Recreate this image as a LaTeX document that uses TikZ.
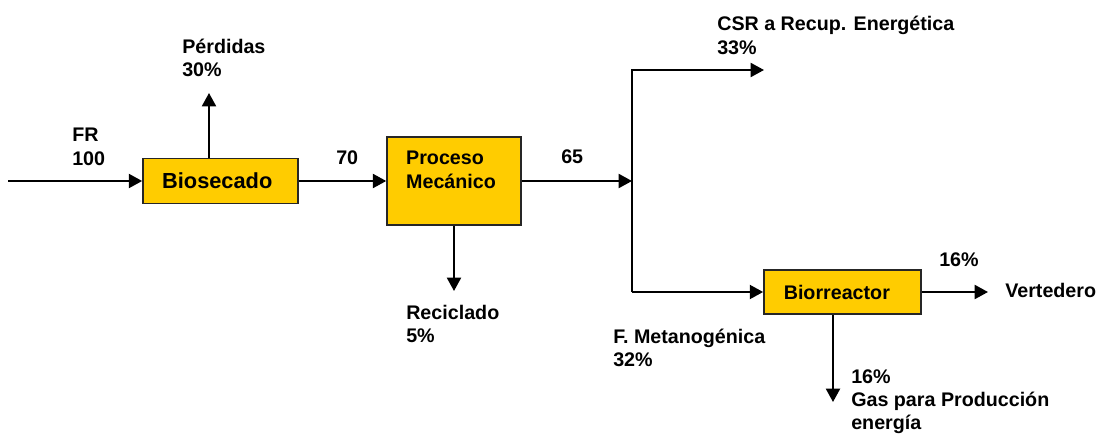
\documentclass[tikz,border=0pt]{standalone}
\usepackage{fontspec}
\setmainfont{Liberation Sans}
\usepackage{xcolor}
\usetikzlibrary{arrows.meta}
\definecolor{boxyellow}{HTML}{FFCC00}

\begin{document}
\begin{tikzpicture}[x=0.025cm,y=-0.025cm,
    flow/.style={line width=1.4pt,-{Triangle[length=9.5pt,width=10pt]}},
    procbox/.style={draw=black!85,line width=1.4pt,fill=boxyellow,inner xsep=13.5pt,inner ysep=0pt,align=left,
        font=\fontsize{14}{16.6}\selectfont\bfseries},
    lbl/.style={anchor=north west,inner sep=0pt,align=left,font=\fontsize{14}{16.6}\selectfont\bfseries}]
\useasboundingbox (0,0) rectangle (1099,434);

% Process boxes
\node[procbox,minimum width=110pt,minimum height=32pt,text width=83pt,font=\fontsize{15.5}{18}\selectfont\bfseries] (bio) at (220.5,181) {Biosecado};
\node[procbox,minimum width=95pt,minimum height=63pt,text width=68pt,text depth=32.6pt] (mec) at (454,181) {Proceso\\Mecánico};
\node[procbox,minimum width=111.5pt,minimum height=31.5pt,text width=83.5pt,inner xsep=14pt] (bior) at (842.5,292) {Biorreactor};

% Free ends of the flows
\coordinate (entrada) at (8,181);
\coordinate (perd) at (209,93);
\coordinate (split) at (632,181);
\coordinate (splittop) at (632,70);
\coordinate (splitbot) at (632,292);
\coordinate (csr) at (764,70);
\coordinate (recic) at (454,291);
\coordinate (vert) at (988,292);
\coordinate (gas) at (833,402);

% Flows
\draw[flow] (entrada) -- (bio.west);
\draw[flow] (bio.north -| perd) -- (perd);
\draw[flow] (bio.east) -- (mec.west);
\draw[flow] (mec.east) -- (split);
\draw[flow] (mec.south) -- (recic);
\draw[flow] (splitbot) -- (splittop) -- (csr);
\draw[flow] (splitbot) -- (bior.west);
\draw[flow] (bior.east) -- (vert);
\draw[flow] (bior.south -| gas) -- (gas);

% Labels
\node[lbl] (fr) at (72,128) {FR\\100};
\node[lbl] (perdidas) at (182,38.5) {Pérdidas\\30\%};
\node[lbl] (q70) at (336,150.5) {70};
\node[lbl] (q65) at (561,149) {65};
\node[lbl] (csrlbl) at (717,16) {CSR a Recup. Energética\\33\%};
\node[lbl] (reclbl) at (406,305) {Reciclado\\5\%};
\node[lbl] (metlbl) at (613,328.5) {F. Metanogénica\\32\%};
\node[lbl] (q16a) at (939,252) {16\%};
\node[lbl] (vertlbl) at (1005,283) {Vertedero};
\node[lbl] (gaslbl) at (851,369) {16\%\\Gas para Producción\\energía};
\end{tikzpicture}
\end{document}
